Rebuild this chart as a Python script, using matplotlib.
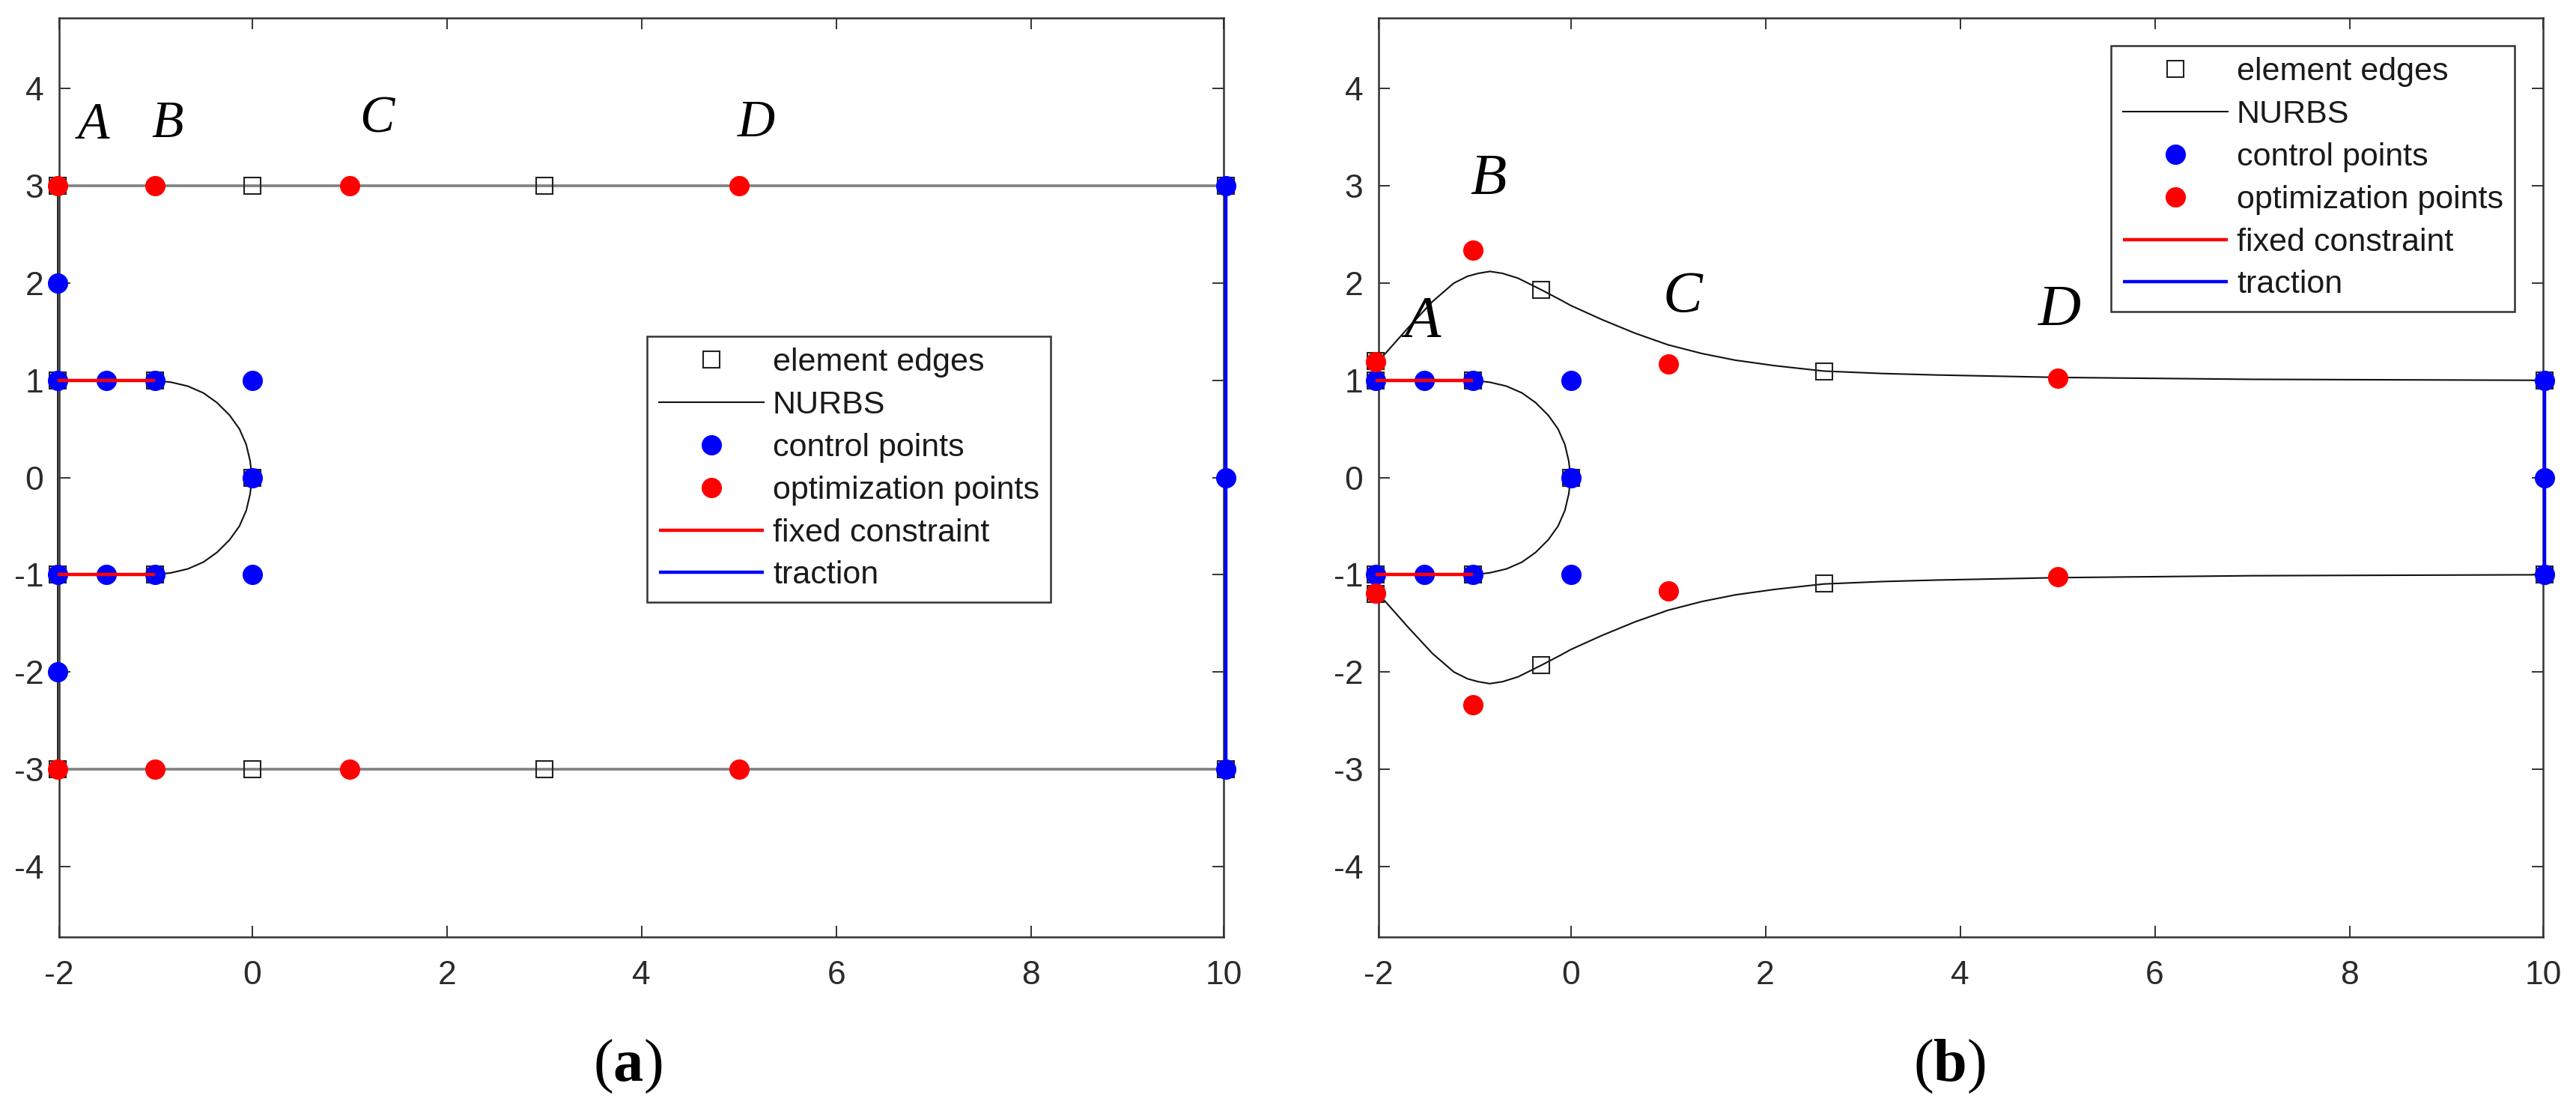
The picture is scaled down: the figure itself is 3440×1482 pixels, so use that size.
import matplotlib
matplotlib.use("Agg")
import matplotlib.pyplot as plt

W, H = 3440, 1482
plt.rcParams['font.family'] = ['Liberation Sans']
plt.rcParams['mathtext.fontset'] = 'custom'
plt.rcParams['mathtext.rm'] = 'Liberation Serif'
plt.rcParams['mathtext.bf'] = 'Liberation Serif:bold'

AXIS_COLOR = '#333333'
LINE_COLOR = '#111111'
BLUE = '#0000ff'
RED = '#ff0000'

x_tick_labels = ['-2', '0', '2', '4', '6', '8', '10']
x_tick_values = [0, 2, 4, 6, 8]
y_ticks = [-4, -3, -2, -1, 0, 1, 2, 3, 4]
y_tick_labels = ['-4', '-3', '-2', '-1', '0', '1', '2', '3', '4']
legend_labels = ['element edges', 'NURBS', 'control points', 'optimization points', 'fixed constraint', 'traction']

# hole outline, shared by both panels
hole_x = [-1.00, -0.83, -0.66, -0.50, -0.36, -0.23, -0.13, -0.06, -0.02, 0.00,
          -0.02, -0.06, -0.13, -0.23, -0.36, -0.50, -0.66, -0.83, -1.00]
hole_y = [1.00, 0.98, 0.94, 0.87, 0.77, 0.64, 0.50, 0.34, 0.17, 0.00,
          -0.17, -0.34, -0.50, -0.64, -0.77, -0.87, -0.94, -0.98, -1.00]

# panel a
a_edges_x = [-2, -2, -2, -2, -1, -1, 0, 0, 0, 3, 3, 10, 10]
a_edges_y = [3, -3, 1, -1, 1, -1, 0, 3, -3, 3, -3, 3, -3]
a_control_x = [-2, -2, -2, -2, -1.5, -1.5, -1, -1, 0, 0, 0, 10, 10, 10]
a_control_y = [2, -2, 1, -1, 1, -1, 1, -1, 1, -1, 0, 3, 0, -3]
a_opt_x = [-2, -1, 1, 5, -2, -1, 1, 5]
a_opt_y = [3, 3, 3, 3, -3, -3, -3, -3]
a_traction_x = [10, 10]
a_traction_y = [-3, 3]
a_side_x = [-2, -2]
a_side_y = [-3, 3]
a_top_x = [-2, 10]
a_top_y = [3, 3]
a_bottom_y = [-3, -3]
a_letters = [('A', -1.63, 3.49), ('B', -0.87, 3.50), ('C', 1.28, 3.55), ('D', 5.18, 3.51)]

# panel b
b_curve_x = [-2.00, -1.90, -1.67, -1.42, -1.20, -1.06, -0.95, -0.83, -0.70, -0.54, -0.30, -0.10,
             0.00, 0.32, 0.66, 1.00, 1.35, 1.69, 2.10, 2.60, 3.20, 3.75, 5.00, 7.00, 10.00]
b_curve_y = [1.18, 1.28, 1.54, 1.81, 2.00, 2.07, 2.10, 2.12, 2.10, 2.05, 1.93, 1.825,
             1.77, 1.625, 1.485, 1.365, 1.275, 1.207, 1.15, 1.095, 1.07, 1.055, 1.03, 1.01, 1.00]
b_edges_x = [-2, -2, -2, -2, -1, -1, 0, -0.3, -0.3, 2.6, 2.6, 10, 10]
b_edges_y = [1.2, -1.2, 1, -1, 1, -1, 0, 1.93, -1.93, 1.09, -1.09, 1, -1]
b_control_x = [-2, -2, -1.5, -1.5, -1, -1, 0, 0, 0, 10, 10, 10]
b_control_y = [1, -1, 1, -1, 1, -1, 1, -1, 0, 1, 0, -1]
b_opt_x = [-2, -1, 1, 5, -2, -1, 1, 5]
b_opt_y = [1.19, 2.34, 1.17, 1.02, -1.19, -2.34, -1.17, -1.02]
b_traction_x = [10, 10]
b_traction_y = [-1, 1]
b_letters = [('A', -1.52, 1.45), ('B', -0.85, 2.92), ('C', 1.15, 1.71), ('D', 5.02, 1.57)]

fixed_x = [-2, -1]
fixed_upper_y = [1, 1]
fixed_lower_y = [-1, -1]


def make_axes(fig, left, right, xlim):
    top, bottom = 24, 1251
    ax = fig.add_axes([left / W, 1 - bottom / H, (right - left) / W, (bottom - top) / H])
    ax.set_xlim(*xlim)
    ax.set_ylim(-4.726, 4.727)
    # the box sits a little inside x=-2 and x=10, the end labels stay on its corners
    ax.set_xticks([xlim[0]] + x_tick_values + [xlim[1]], x_tick_labels)
    ax.set_yticks(y_ticks, y_tick_labels)
    ax.tick_params(direction='in', top=True, right=True, length=10.8, width=1.4,
                   color=AXIS_COLOR, labelcolor='#2b2b2b', labelsize=32)
    ax.tick_params(axis='x', pad=22)
    ax.tick_params(axis='y', pad=15)
    for spine in ax.spines.values():
        spine.set_linewidth(1.8)
        spine.set_color(AXIS_COLOR)
    return ax


def draw_points(ax, edges, control, opt):
    h_edges, = ax.plot(*edges, ls='none', marker='s', ms=16, mfc='none', mec='#222222',
                       mew=1.5, clip_on=False, zorder=3)
    h_control, = ax.plot(*control, ls='none', marker='o', ms=19.5, mfc=BLUE, mec='none',
                         clip_on=False, zorder=4)
    h_opt, = ax.plot(*opt, ls='none', marker='o', ms=19.5, mfc=RED, mec='none',
                     clip_on=False, zorder=5)
    ax.plot(fixed_x, fixed_upper_y, color=RED, lw=3.2, zorder=6, solid_capstyle='butt', clip_on=False)
    h_fixed, = ax.plot(fixed_x, fixed_lower_y, color=RED, lw=3.2, zorder=6, solid_capstyle='butt', clip_on=False)
    return h_edges, h_control, h_opt, h_fixed


def add_legend(ax, handles, left, top):
    leg = ax.legend(handles, legend_labels, loc='upper left', bbox_to_anchor=(left / W, 1 - top / H),
                    bbox_transform=ax.figure.transFigure, borderaxespad=0, fontsize=31,
                    handlelength=3.26, handletextpad=0.28, borderpad=0.36, labelspacing=0.39,
                    fancybox=False, framealpha=1, edgecolor=AXIS_COLOR, labelcolor='#1a1a1a')
    leg.get_frame().set_linewidth(1.8)
    leg.set_zorder(8)


def add_letters(ax, letters, size):
    for name, x, y in letters:
        ax.text(x, y, name, family='Liberation Serif', style='italic', fontsize=size,
                color='black', ha='center', va='baseline', zorder=7)


fig = plt.figure(figsize=(W / 100, H / 100), dpi=100, facecolor='white')

# (a)
ax_a = make_axes(fig, 79, 1634, (-1.981, 9.977))
h_nurbs, = ax_a.plot(hole_x, hole_y, color=LINE_COLOR, lw=1.5, zorder=2)
ax_a.plot(a_side_x, a_side_y, color=LINE_COLOR, lw=1.3, zorder=2, clip_on=False)
ax_a.plot(a_top_x, a_top_y, color='#808080', lw=2.6, zorder=2, clip_on=False)
ax_a.plot(a_top_x, a_bottom_y, color='#808080', lw=2.6, zorder=2, clip_on=False)
h_edges, h_control, h_opt, h_fixed = draw_points(ax_a, (a_edges_x, a_edges_y),
                                                 (a_control_x, a_control_y), (a_opt_x, a_opt_y))
h_traction, = ax_a.plot(a_traction_x, a_traction_y, color=BLUE, lw=3.2, zorder=6,
                        solid_capstyle='butt', clip_on=False)
add_legend(ax_a, [h_edges, h_nurbs, h_control, h_opt, h_fixed, h_traction], 864, 449)
add_letters(ax_a, a_letters, 50)

# (b)
ax_b = make_axes(fig, 1841, 3396, (-1.973, 9.988))
h_nurbs, = ax_b.plot(hole_x, hole_y, color=LINE_COLOR, lw=1.5, zorder=2)
ax_b.plot(b_curve_x, b_curve_y, color=LINE_COLOR, lw=1.5, zorder=2, clip_on=False)
ax_b.plot(b_curve_x, [-v for v in b_curve_y], color=LINE_COLOR, lw=1.5, zorder=2, clip_on=False)
h_edges, h_control, h_opt, h_fixed = draw_points(ax_b, (b_edges_x, b_edges_y),
                                                 (b_control_x, b_control_y), (b_opt_x, b_opt_y))
h_traction, = ax_b.plot(b_traction_x, b_traction_y, color=BLUE, lw=3.2, zorder=6,
                        solid_capstyle='butt', clip_on=False)
add_legend(ax_b, [h_edges, h_nurbs, h_control, h_opt, h_fixed, h_traction], 2819, 61)
add_letters(ax_b, b_letters, 57)

fig.text(838 / W, 1 - 1443 / H, r'$\mathrm{(}\mathbf{a}\mathrm{)}$', fontsize=58,
         color='black', ha='center', va='baseline')
fig.text(2603 / W, 1 - 1443 / H, r'$\mathrm{(}\mathbf{b}\mathrm{)}$', fontsize=58,
         color='black', ha='center', va='baseline')

fig.savefig('out.png', dpi=100)
